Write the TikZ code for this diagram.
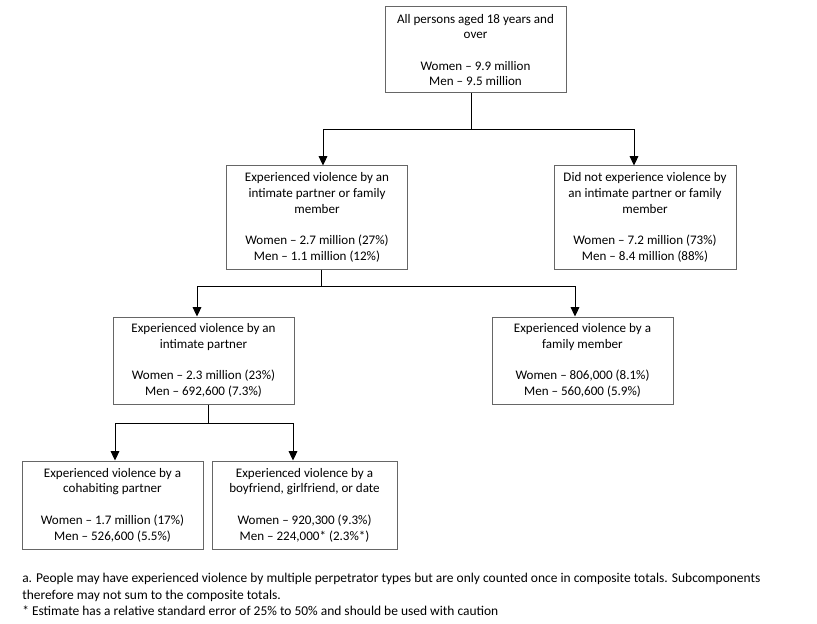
\documentclass[tikz,border=0pt]{standalone}
\usepackage{fontspec}
\setmainfont{Carlito}
\usetikzlibrary{arrows.meta}
\begin{document}
\begin{tikzpicture}[x=0.75pt,y=-0.75pt,
  box/.style={draw=black!60,line width=0.75pt,fill=white,inner sep=0pt,align=center,
    font=\fontsize{9.8}{11.8}\selectfont,minimum width=135.75pt},
  conn/.style={draw=black,line width=0.75pt},
  arr/.style={conn,-{Triangle[width=6.5pt,length=7pt]}}]
\useasboundingbox[fill=white] (0,0) rectangle (817,624);
\node[box,minimum height=64.5pt] (top) at (475.5,50)
  {All persons aged 18 years and\\over\\[11.8pt]Women -- 9.9 million\\Men -- 9.5 million};
\node[box,minimum height=77.25pt] (b2) at (317,217.5)
  {Experienced violence by an\\intimate partner or family\\member\\[11.8pt]Women -- 2.7 million (27\%)\\Men -- 1.1 million (12\%)};
\node[box,minimum height=77.25pt,minimum width=136.5pt] (b3) at (645,217.5)
  {Did not experience violence by\\an intimate partner or family\\member\\[11.8pt]Women -- 7.2 million (73\%)\\Men -- 8.4 million (88\%)};
\node[box,minimum height=65.25pt] (b4) at (203.5,360.5)
  {Experienced violence by an\\intimate partner\\[11.8pt]Women -- 2.3 million (23\%)\\Men -- 692,600 (7.3\%)};
\node[box,minimum height=65.25pt] (b5) at (582.5,360.5)
  {Experienced violence by a\\family member\\[11.8pt]Women -- 806,000 (8.1\%)\\Men -- 560,600 (5.9\%)};
\node[box,minimum height=66pt] (b6) at (112.5,505)
  {Experienced violence by a\\cohabiting partner\\[11.8pt]Women -- 1.7 million (17\%)\\Men -- 526,600 (5.5\%)};
\node[box,minimum height=66pt,minimum width=138.75pt] (b7) at (304.5,505)
  {Experienced violence by a\\boyfriend, girlfriend, or date\\[11.8pt]Women -- 920,300 (9.3\%)\\Men -- 224,000* (2.3\%*)};
% connectors
\draw[conn] ([xshift=-3.375pt]top.south) -- ++(0,36) coordinate (j1);
\draw[arr] (j1) -| ([xshift=4.5pt]b2.north);
\draw[arr] (j1) -| ([xshift=-8.25pt]b3.north);
\draw[conn] ([xshift=3pt]b2.south) -- ++(0,17) coordinate (j2);
\draw[arr] (j2) -| ([xshift=-4.875pt]b4.north);
\draw[arr] (j2) -| ([xshift=-5.625pt]b5.north);
\draw[conn] ([xshift=3.375pt]b4.south) -- ++(0,19) coordinate (j3);
\draw[arr] (j3) -| ([xshift=1.875pt]b6.north);
\draw[arr] (j3) -| ([xshift=-8.625pt]b7.north);
% footnote
\node[anchor=north west,align=left,inner sep=0pt,font=\fontsize{10.1}{12.3}\selectfont] (note) at (22,573)
  {a. People may have experienced violence by multiple perpetrator types but are only counted once in composite totals. Subcomponents\\therefore may not sum to the composite totals.\\* Estimate has a relative standard error of 25\% to 50\% and should be used with caution};
\end{tikzpicture}
\end{document}
